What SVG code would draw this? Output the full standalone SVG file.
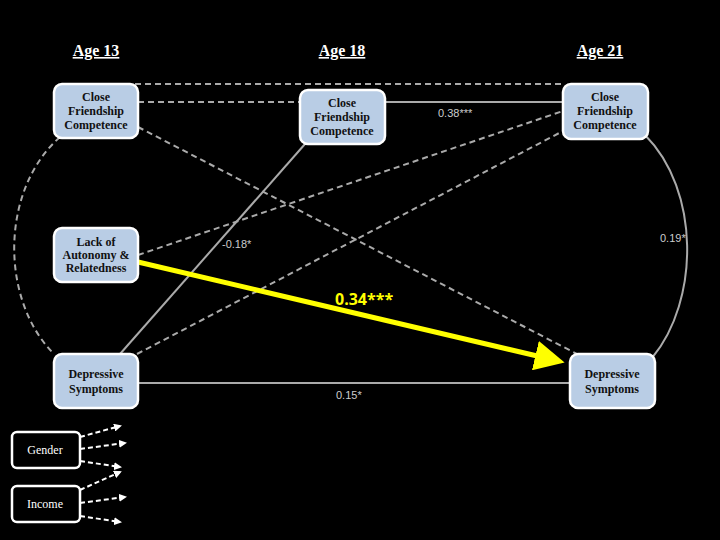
<svg xmlns="http://www.w3.org/2000/svg" width="720" height="540" viewBox="0 0 720 540">
<defs>
<style>
.n rect{fill:#b9cde5;stroke:#fff;stroke-width:2.5}
.n text{font-family:"Liberation Serif",serif;font-size:12px;font-weight:bold;fill:#111;text-anchor:middle}
.c rect{fill:#000;stroke:#fff;stroke-width:2.5}
.c text{font-family:"Liberation Serif",serif;font-size:12px;fill:#fff;text-anchor:middle}
.h{font-family:"Liberation Serif",serif;font-size:16px;font-weight:bold;fill:#fff;text-anchor:middle;text-decoration:underline}
.d{stroke:#aaa;stroke-width:2;stroke-dasharray:6,4;fill:none}
.s{stroke:#aaa;stroke-width:2;fill:none}
.w{stroke:#fff;stroke-width:2;stroke-dasharray:5,3;fill:none}
.l{font-family:"Liberation Sans",sans-serif;font-size:11px;fill:#ccc}
</style>
<marker id="ya" markerWidth="6" markerHeight="6" refX="3" refY="3" orient="auto" markerUnits="strokeWidth"><path d="M0,0 L6,3 L0,6 z" fill="#ffff00"/></marker>
<marker id="wa" markerWidth="4" markerHeight="4" refX="3" refY="2" orient="auto" markerUnits="strokeWidth"><path d="M0,0 L4,2 L0,4 z" fill="#fff"/></marker>
</defs>
<rect width="720" height="540" fill="#000"/>
<text class="h" x="96" y="56">Age 13</text>
<text class="h" x="342" y="56">Age 18</text>
<text class="h" x="600" y="56">Age 21</text>
<g id="connectors">
<path class="d" d="M135,84 H563"/>
<path class="d" d="M138,102 H300"/>
<path class="s" d="M385,102 H563"/>
<path class="d" d="M138,127 L577,354"/>
<path class="s" d="M305,144 L120,354"/>
<path class="d" d="M138,255 L563,111"/>
<path class="d" d="M137,354 L563,131"/>
<path class="d" d="M60,137 C0,190 0,300 54,354"/>
<path class="s" d="M645,135 C700,190 700,300 652,358"/>
<path class="s" d="M138,383 H570"/>
<path stroke="#ffff00" stroke-width="5" fill="none" marker-end="url(#ya)" d="M138,262 L550,359"/>
<path class="w" marker-end="url(#wa)" d="M80,437 L120,426"/>
<path class="w" marker-end="url(#wa)" d="M80,449 L125,443"/>
<path class="w" marker-end="url(#wa)" d="M80,461 L120,467"/>
<path class="w" marker-end="url(#wa)" d="M80,490 L120,472"/>
<path class="w" marker-end="url(#wa)" d="M80,503 L125,497"/>
<path class="w" marker-end="url(#wa)" d="M80,516 L120,522"/>
<text class="l" x="438" y="117">0.38***</text>
<text class="l" x="222" y="248">-0.18*</text>
<text class="l" x="660" y="242">0.19*</text>
<text class="l" x="336" y="399">0.15*</text>
<text x="335" y="305" font-family="Open Sans,sans-serif" font-size="16" font-weight="bold" fill="#ffff00">0.34***</text>
</g>
<g id="n13cfc" class="n"><rect x="54" y="84" width="84" height="54" rx="8"/><text x="96" y="101">Close</text><text x="96" y="115">Friendship</text><text x="96" y="129">Competence</text></g>
<g id="n18cfc" class="n"><rect x="300" y="90" width="85" height="54" rx="8"/><text x="342" y="107">Close</text><text x="342" y="121">Friendship</text><text x="342" y="135">Competence</text></g>
<g id="n21cfc" class="n"><rect x="563" y="84" width="85" height="55" rx="8"/><text x="605" y="101">Close</text><text x="605" y="115">Friendship</text><text x="605" y="129">Competence</text></g>
<g id="nlack" class="n"><rect x="54" y="228" width="84" height="54" rx="8"/><text x="96" y="246">Lack of</text><text x="96" y="259">Autonomy &amp;</text><text x="96" y="272">Relatedness</text></g>
<g id="n13dep" class="n"><rect x="54" y="354" width="84" height="54" rx="8"/><text x="96" y="378">Depressive</text><text x="96" y="393">Symptoms</text></g>
<g id="n21dep" class="n"><rect x="570" y="354" width="85" height="54" rx="8"/><text x="612" y="378">Depressive</text><text x="612" y="393">Symptoms</text></g>
<g id="gender" class="c"><rect x="12" y="432" width="68" height="36" rx="5"/><text x="45" y="454">Gender</text></g>
<g id="income" class="c"><rect x="12" y="486" width="68" height="36" rx="5"/><text x="45" y="508">Income</text></g>
</svg>
